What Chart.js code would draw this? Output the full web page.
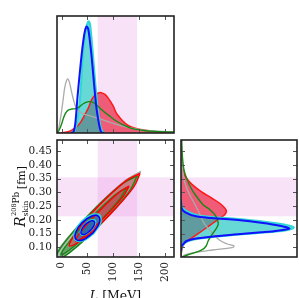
<!DOCTYPE html>
<html><head><meta charset="utf-8">
<script src="https://cdn.jsdelivr.net/npm/chart.js@4.4.1/dist/chart.umd.min.js"></script>
<style>
html,body{margin:0;padding:0;background:#fff;}
#wrap{position:relative;width:299px;height:298px;overflow:hidden;background:#fff;}
canvas{position:absolute;left:0;top:0;}
</style></head><body>
<div id="wrap">
<canvas id="cMain" width="299" height="298"></canvas>
<canvas id="cTop" width="299" height="298"></canvas>
<canvas id="cSide" width="299" height="298"></canvas>
</div>
<script>
// ---------- axes / tick labels ----------
const L_TICKS = [0, 50, 100, 150, 200];
const R_TICKS = [0.10, 0.15, 0.20, 0.25, 0.30, 0.35, 0.40, 0.45];
const L_RANGE = [-8.7, 217.4];
const R_RANGE = [0.0646, 0.4913];
const PREX_L = [70, 146];
const PREX_R = [0.213, 0.355];

// ---------- marginal of L (top panel) ----------
const L_gray = [-7.5, -6, -3, 0, 3, 7, 12, 16, 20, 25, 30, 40, 50, 60, 80, 100, 120, 150, 180, 217];
const P_gray = [0, 0.023, 0.1, 0.18, 0.28, 0.405, 0.462, 0.42, 0.34, 0.255, 0.2, 0.167, 0.153, 0.139, 0.113, 0.082, 0.057, 0.031, 0.017, 0.008];
const L_green = [-7.5, -4, 0, 4, 8, 13, 20, 28, 35, 42, 50, 55, 62, 70, 80, 90, 100, 110, 120, 135, 155, 180, 217];
const P_green = [0, 0.03, 0.075, 0.13, 0.17, 0.196, 0.205, 0.208, 0.225, 0.25, 0.266, 0.268, 0.26, 0.23, 0.19, 0.155, 0.12, 0.092, 0.068, 0.04, 0.024, 0.014, 0.008];
const L_red = [-7.5, 0, 10, 20, 25, 32, 38, 45, 52, 58, 64, 70, 77, 84, 90, 96, 100, 106, 112, 118, 125, 135, 150, 170, 190, 217];
const P_red = [0, 0.003, 0.008, 0.025, 0.04, 0.065, 0.1, 0.156, 0.215, 0.283, 0.32, 0.34, 0.345, 0.33, 0.3, 0.26, 0.23, 0.17, 0.135, 0.105, 0.075, 0.052, 0.032, 0.017, 0.008, 0.003];
const L_cyan = [18, 23, 26, 29.5, 33, 36, 39, 42.3, 45, 47, 50, 52.5, 55, 58.3, 61.5, 64.7, 68, 71.2, 74.5, 77.6, 82];
const P_cyan = [0, 0.008, 0.03, 0.08, 0.18, 0.306, 0.51, 0.731, 0.83, 0.887, 0.935, 0.955, 0.93, 0.788, 0.62, 0.448, 0.29, 0.164, 0.075, 0.023, 0];
const L_blue = [18, 23, 26.6, 30.9, 35, 39, 42.5, 45.4, 48.6, 51.8, 55, 58.3, 61.5, 64.7, 68, 71.2, 74, 77, 82];
const P_blue = [0, 0.008, 0.08, 0.306, 0.5, 0.674, 0.8, 0.875, 0.91, 0.885, 0.78, 0.646, 0.49, 0.334, 0.2, 0.108, 0.045, 0.006, 0];

// ---------- marginal of R_skin (right panel) ----------
const R_gray = [0.4925, 0.4257, 0.3771, 0.3407, 0.3041, 0.2725, 0.2312, 0.1874, 0.1522, 0.1266, 0.112, 0.1047, 0.0987, 0.0902, 0.0804, 0.072, 0.0646];
const D_gray = [0.003, 0.009, 0.017, 0.03, 0.06, 0.10, 0.15, 0.20, 0.27, 0.33, 0.40, 0.457, 0.44, 0.27, 0.11, 0.034, 0.006];
const R_green = [0.4925, 0.4378, 0.3771, 0.3163, 0.2798, 0.2555, 0.2372, 0.2190, 0.2008, 0.1825, 0.1643, 0.1400, 0.1230, 0.1047, 0.0914, 0.0804, 0.072, 0.0646];
const D_green = [0.006, 0.011, 0.029, 0.086, 0.143, 0.191, 0.249, 0.291, 0.314, 0.32, 0.297, 0.257, 0.234, 0.217, 0.183, 0.12, 0.057, 0.011];
const R_red = [0.4925, 0.4378, 0.3771, 0.3527, 0.3284, 0.3041, 0.2798, 0.2616, 0.2433, 0.2312, 0.2190, 0.2069, 0.1947, 0.1825, 0.1704, 0.1522, 0.1351, 0.1157, 0.0987, 0.0804, 0.0646];
const D_red = [0, 0.006, 0.02, 0.046, 0.097, 0.171, 0.263, 0.331, 0.377, 0.391, 0.377, 0.337, 0.297, 0.257, 0.217, 0.157, 0.097, 0.034, 0.011, 0.003, 0];
const R_cyan = [0.27, 0.2458, 0.2190, 0.2105, 0.2032, 0.1947, 0.1825, 0.1728, 0.1631, 0.1558, 0.1485, 0.1400, 0.1315, 0.1230, 0.1108, 0.0962, 0.08];
const D_cyan = [0, 0.006, 0.12, 0.263, 0.491, 0.691, 0.891, 0.971, 0.92, 0.777, 0.549, 0.32, 0.149, 0.063, 0.02, 0.003, 0];
const R_blue = [0.27, 0.2409, 0.2287, 0.2142, 0.2069, 0.1996, 0.1898, 0.1777, 0.1679, 0.1607, 0.1546, 0.1473, 0.1388, 0.1315, 0.1230, 0.1120, 0.1047, 0.085];
const D_blue = [0, 0.006, 0.034, 0.12, 0.263, 0.491, 0.691, 0.863, 0.934, 0.834, 0.691, 0.491, 0.263, 0.12, 0.049, 0.02, 0.006, 0];

// ---------- 2D credible contours (L, R_skin) ----------
const CL_gray2 = [153.2, 134.8, 76.8, 13.2, -18.9, -0.5, 57.5, 121.1];
const CR_gray2 = [0.377, 0.3157, 0.1927, 0.0801, 0.0439, 0.1053, 0.2283, 0.3409];
const CL_green2 = [146.6, 130.5, 77.0, 17.5, -13.3, 2.8, 56.3, 115.9];
const CR_green2 = [0.3612, 0.3023, 0.1872, 0.0833, 0.0515, 0.1103, 0.2254, 0.3293];
const CL_green1 = [126.2, 111.9, 68.7, 21.9, -1.2, 13.1, 56.3, 103.1];
const CR_green1 = [0.3186, 0.2744, 0.1839, 0.1001, 0.0721, 0.1163, 0.2068, 0.2906];
const CL_red2 = [151.8, 138.7, 93.3, 42.2, 15.3, 28.5, 73.9, 125.0];
const CR_red2 = [0.3691, 0.3177, 0.2191, 0.1309, 0.1048, 0.1562, 0.2548, 0.343];
const CL_red1 = [130.7, 119.4, 84.3, 45.9, 26.8, 38.1, 73.2, 111.6];
const CR_red1 = [0.3229, 0.2863, 0.2122, 0.1441, 0.1218, 0.1585, 0.2325, 0.3006];
const CL_cyan2 = [62.2, 42.0, 26.8, 25.4, 38.7, 58.8, 74.0, 75.4];
const CR_cyan2 = [0.1502, 0.1243, 0.1261, 0.1548, 0.1935, 0.2194, 0.2175, 0.1889];
const CL_blue2 = [60.4, 42.1, 28.5, 27.4, 39.7, 58.0, 71.6, 72.7];
const CR_blue2 = [0.1513, 0.1274, 0.1286, 0.1543, 0.1895, 0.2134, 0.2122, 0.1864];
const CL_cyan1 = [57.4, 46.1, 37.7, 37.3, 45.0, 56.3, 64.7, 65.1];
const CR_cyan1 = [0.1615, 0.1464, 0.1468, 0.1626, 0.1844, 0.1995, 0.1991, 0.1833];
const CL_blue1 = [56.3, 46.1, 38.7, 38.3, 45.3, 55.5, 63.0, 63.3];
const CR_blue1 = [0.1617, 0.1481, 0.1484, 0.1624, 0.1820, 0.1956, 0.1953, 0.1813];

// ---------- helpers ----------
const FONT = 'DejaVu Serif';
const BAND = 'rgba(220,110,220,0.2)';
const TL = 4;
const pts = (xs, ys) => xs.map((x, i) => ({x: x, y: ys[i]}));
const loop = (xs, ys) => { const p = pts(xs, ys); p.push({x: p[0].x, y: p[0].y}); return p; };
const ordered = arr => arr.map((d, i) => Object.assign({order: -i, pointRadius: 0, tension: 0.35}, d));

function decor(o) {
  return {
    id: 'decor',
    beforeDraw(chart) {
      const {ctx, chartArea: a} = chart; const x = chart.scales.x, y = chart.scales.y;
      ctx.save(); ctx.fillStyle = BAND;
      if (o.vband) { const x0 = x.getPixelForValue(PREX_L[0]), x1 = x.getPixelForValue(PREX_L[1]); ctx.fillRect(x0, a.top, x1 - x0, a.bottom - a.top); }
      if (o.hband) { const y0 = y.getPixelForValue(PREX_R[1]), y1 = y.getPixelForValue(PREX_R[0]); ctx.fillRect(a.left, y0, a.right - a.left, y1 - y0); }
      ctx.restore();
    },
    afterDraw(chart) {
      const {ctx, chartArea: a} = chart; const x = chart.scales.x, y = chart.scales.y;
      ctx.save(); ctx.strokeStyle = '#555'; ctx.lineWidth = 1; ctx.beginPath();
      if (o.xt) for (const v of L_TICKS) { const px = Math.round(x.getPixelForValue(v)) + 0.5; ctx.moveTo(px, a.top); ctx.lineTo(px, a.top + TL); ctx.moveTo(px, a.bottom); ctx.lineTo(px, a.bottom - TL); }
      if (o.yt) for (const v of R_TICKS) { const py = Math.round(y.getPixelForValue(v)) + 0.5; ctx.moveTo(a.left, py); ctx.lineTo(a.left + TL, py); ctx.moveTo(a.right, py); ctx.lineTo(a.right - TL, py); }
      ctx.stroke();
      ctx.strokeStyle = '#222'; ctx.lineWidth = 1.6;
      ctx.strokeRect(a.left, a.top, a.right - a.left, a.bottom - a.top);
      ctx.restore();
    }
  };
}

const titles = {
  id: 'titles',
  afterDraw(chart) {
    const ctx = chart.ctx; const a = chart.chartArea;
    ctx.save(); ctx.fillStyle = '#111'; ctx.textBaseline = 'alphabetic'; ctx.textAlign = 'left';
    // x title
    const fI = 'italic 12.5px "' + FONT + '"', fN = '12.5px "' + FONT + '"';
    ctx.font = fI; const w1 = ctx.measureText('L').width;
    ctx.font = fN; const w2 = ctx.measureText(' [MeV]').width;
    let x0 = (a.left + a.right) / 2 - (w1 + w2) / 2;
    ctx.font = fI; ctx.fillText('L', x0, 300);
    ctx.font = fN; ctx.fillText(' [MeV]', x0 + w1, 300);
    // y title (rotated)
    const fR = 'italic 14px "' + FONT + '"', f208 = '6.5px "' + FONT + '"', fPb = '9px "' + FONT + '"', fSk = '7.5px "' + FONT + '"', fFm = '11px "' + FONT + '"';
    ctx.font = fR; const wR = ctx.measureText('R').width;
    ctx.font = f208; const w208 = ctx.measureText('208').width;
    ctx.font = fPb; const wPb = ctx.measureText('Pb').width;
    ctx.font = fSk; const wSk = ctx.measureText('skin').width;
    ctx.font = fFm; const wFm = ctx.measureText('[fm]').width;
    const scripts = Math.max(w208 + wPb, wSk);
    const total = wR + scripts + 3 + wFm;
    const yc = (a.top + a.bottom) / 2 - 2;
    ctx.translate(24.5, 0); ctx.rotate(-Math.PI / 2);
    let u = -(yc + total / 2);
    ctx.font = fR; ctx.fillText('R', u, 0); u += wR;
    ctx.font = f208; ctx.fillText('208', u + 0.5, -8.5);
    ctx.font = fPb; ctx.fillText('Pb', u + 0.5 + w208, -5.5);
    ctx.font = fSk; ctx.fillText('skin', u, 3);
    u += scripts + 3;
    ctx.font = fFm; ctx.fillText('[fm]', u, 0);
    ctx.restore();
  }
};

const commonPlugins = {legend: {display: false}, tooltip: {enabled: false}, filler: {drawTime: 'beforeDatasetsDraw', propagate: false}};

// ---------- main (2D) panel ----------
const tickFont = {family: FONT, size: 10.5};
new Chart(document.getElementById('cMain'), {
  type: 'line',
  data: {datasets: ordered([
    {data: loop(CL_gray2, CR_gray2), borderColor: '#a8a8a8', borderWidth: 1.5, backgroundColor: 'rgba(175,175,175,0.55)', fill: 'shape'},
    {data: loop(CL_green2, CR_green2), borderColor: '#188818', borderWidth: 1.5, backgroundColor: 'rgba(90,170,90,0.35)', fill: 'shape'},
    {data: loop(CL_green1, CR_green1), borderColor: '#188818', borderWidth: 1.4, backgroundColor: 'rgba(30,125,30,0.45)', fill: 'shape'},
    {data: loop(CL_red2, CR_red2), borderColor: '#ff0000', borderWidth: 1.5, backgroundColor: 'rgba(240,70,95,0.5)', fill: 'shape'},
    {data: loop(CL_red1, CR_red1), borderColor: '#ff0000', borderWidth: 1.4, backgroundColor: 'rgba(215,40,75,0.35)', fill: 'shape'},
    {data: loop(CL_cyan2, CR_cyan2), borderColor: '#2ed2d2', borderWidth: 1.8, backgroundColor: 'rgba(0,185,190,0.5)', fill: 'shape'},
    {data: loop(CL_blue2, CR_blue2), borderColor: '#0000ff', borderWidth: 1.5, backgroundColor: 'rgba(30,70,200,0.35)', fill: 'shape'},
    {data: loop(CL_cyan1, CR_cyan1), borderColor: '#2ed2d2', borderWidth: 1.5, backgroundColor: 'rgba(0,150,180,0.3)', fill: 'shape'},
    {data: loop(CL_blue1, CR_blue1), borderColor: '#0000ff', borderWidth: 1.3, backgroundColor: 'rgba(30,70,180,0.3)', fill: 'shape'}
  ])},
  options: {
    responsive: false, animation: false, devicePixelRatio: 1, events: [],
    layout: {padding: {left: 0, right: 125, top: 140, bottom: 0}},
    plugins: commonPlugins,
    scales: {
      x: {type: 'linear', position: 'bottom', min: L_RANGE[0], max: L_RANGE[1],
        afterBuildTicks: s => { s.ticks = L_TICKS.map(v => ({value: v})); },
        afterFit: s => { s.height = 41; },
        grid: {display: false, drawTicks: false}, border: {display: false},
        ticks: {autoSkip: false, minRotation: 90, maxRotation: 90, padding: 5, color: '#222', font: tickFont, callback: v => String(v)}},
      y: {type: 'linear', position: 'left', min: R_RANGE[0], max: R_RANGE[1],
        afterBuildTicks: s => { s.ticks = R_TICKS.map(v => ({value: v})); },
        afterFit: s => { s.width = 57; },
        grid: {display: false, drawTicks: false}, border: {display: false},
        ticks: {autoSkip: false, padding: 5, color: '#222', font: tickFont, callback: v => Number(v).toFixed(2)}}
    }
  },
  plugins: [decor({vband: true, hband: true, xt: true, yt: true}), titles]
});

// ---------- top (L marginal) panel ----------
new Chart(document.getElementById('cTop'), {
  type: 'line',
  data: {datasets: ordered([
    {data: pts(L_red, P_red), borderColor: '#ff1a1a', borderWidth: 1.5, backgroundColor: 'rgba(232,10,40,0.62)', fill: 'origin'},
    {data: pts(L_cyan, P_cyan), borderColor: '#33d6d6', borderWidth: 2.2, backgroundColor: 'rgba(0,190,185,0.6)', fill: 'origin'},
    {data: pts(L_gray, P_gray), borderColor: '#aaaaaa', borderWidth: 1.3, fill: false},
    {data: pts(L_green, P_green), borderColor: '#158a15', borderWidth: 1.4, fill: false},
    {data: pts(L_blue, P_blue), borderColor: '#1010ff', borderWidth: 2, fill: false}
  ])},
  options: {
    responsive: false, animation: false, devicePixelRatio: 1, events: [],
    layout: {padding: {left: 57, right: 125, top: 16, bottom: 165}},
    plugins: commonPlugins,
    scales: {
      x: {type: 'linear', min: L_RANGE[0], max: L_RANGE[1], display: false},
      y: {type: 'linear', min: 0, max: 1, display: false}
    }
  },
  plugins: [decor({vband: true, hband: false, xt: true, yt: false})]
});

// ---------- side (R_skin marginal) panel ----------
new Chart(document.getElementById('cSide'), {
  type: 'line',
  data: {datasets: ordered([
    {data: pts(D_red, R_red), borderColor: '#ff1a1a', borderWidth: 1.5, backgroundColor: 'rgba(232,10,40,0.62)', fill: 'shape'},
    {data: pts(D_cyan, R_cyan), borderColor: '#33d6d6', borderWidth: 2.2, backgroundColor: 'rgba(0,190,185,0.6)', fill: 'shape'},
    {data: pts(D_gray, R_gray), borderColor: '#aaaaaa', borderWidth: 1.3, fill: false},
    {data: pts(D_green, R_green), borderColor: '#158a15', borderWidth: 1.4, fill: false},
    {data: pts(D_blue, R_blue), borderColor: '#1010ff', borderWidth: 2, fill: false}
  ])},
  options: {
    responsive: false, animation: false, devicePixelRatio: 1, events: [],
    layout: {padding: {left: 181, right: 2, top: 140, bottom: 41}},
    plugins: commonPlugins,
    scales: {
      x: {type: 'linear', min: 0, max: 1, display: false},
      y: {type: 'linear', min: R_RANGE[0], max: R_RANGE[1], display: false}
    }
  },
  plugins: [decor({vband: false, hband: true, xt: false, yt: true})]
});
</script>
</body></html>
